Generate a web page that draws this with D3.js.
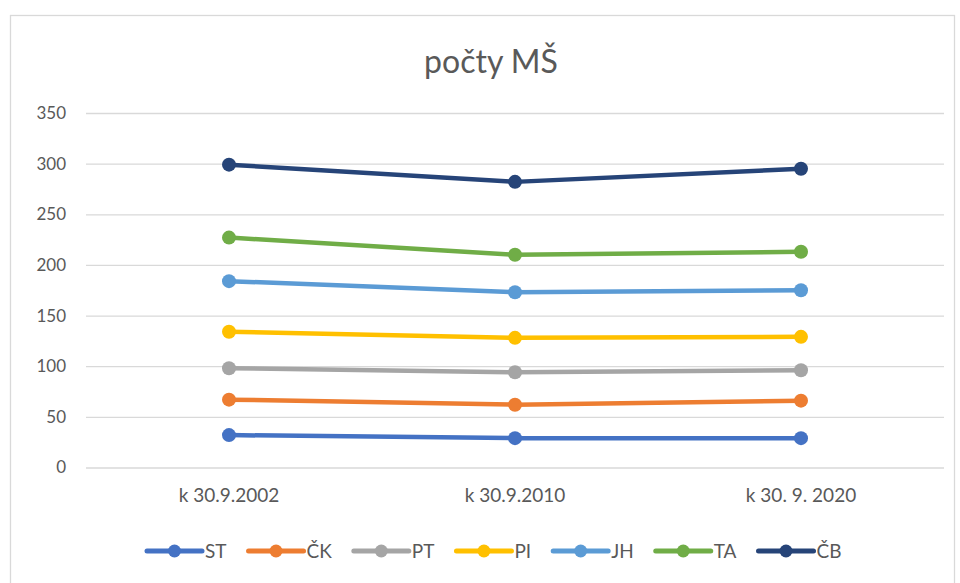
<!DOCTYPE html>
<html>
<head>
<meta charset="utf-8">
<script src="https://cdn.jsdelivr.net/npm/d3@7"></script>
<style>
  html, body { margin: 0; padding: 0; background: white; }
  text { font-family: Lato, "Open Sans", sans-serif; fill: #595959; }
</style>
</head>
<body>
<div id="d3-container"></div>
<script>
// categories and per-district values (stacked in the chart)
let categories = ['k 30.9.2002', 'k 30.9.2010', 'k 30. 9. 2020'];
let seriesNames = ['ST', 'ČK', 'PT', 'PI', 'JH', 'TA', 'ČB'];
let ST = [32, 29, 29];
let CK = [35, 33, 37];
let PT = [31, 32, 30];
let PI = [36, 34, 33];
let JH = [50, 45, 46];
let TA = [43, 37, 38];
let CB = [72, 72, 82];
let yTicks = [0, 50, 100, 150, 200, 250, 300, 350];
let colors = ['#4472C4', '#ED7D31', '#A5A5A5', '#FFC000', '#5B9BD5', '#70AD47', '#264478'];

let seriesValues = [ST, CK, PT, PI, JH, TA, CB];
let table = categories.map(function (c, i) {
  let row = { cat: c };
  seriesNames.forEach(function (s, j) { row[s] = seriesValues[j][i]; });
  return row;
});
let stacked = d3.stack().keys(seriesNames)(table);

let W = 960, H = 583;
let margin = { top: 113, left: 86, right: 16, bottom: 116 };

let svg = d3.select('#d3-container')
  .append('svg')
  .attr('width', W)
  .attr('height', H);

// chart frame
svg.append('rect')
  .attr('x', 10.5).attr('y', 15.5)
  .attr('width', 944).attr('height', 580)
  .attr('fill', 'white')
  .attr('stroke', '#d9d9d9')
  .attr('stroke-width', 1.3);

let xScale = d3.scaleBand().domain(categories).range([margin.left, W - margin.right]);
let yScale = d3.scaleLinear().domain([0, 350]).range([H - margin.bottom + 0.5, margin.top]);

// title
svg.append('text')
  .attr('x', 491).attr('y', 73)
  .attr('text-anchor', 'middle')
  .style('font-size', '32px')
  .text('počty MŠ');

// y axis with gridlines
let yAxis = svg.append('g')
  .attr('transform', 'translate(' + margin.left + ',0)')
  .call(d3.axisLeft(yScale).tickValues(yTicks).tickSize(-(W - margin.left - margin.right)).tickPadding(20));
yAxis.select('.domain').remove();
yAxis.selectAll('.tick line').attr('stroke', '#d9d9d9').attr('stroke-width', 1.3);
yAxis.selectAll('.tick text').style('font-size', '17px').attr('fill', '#595959');

// x axis labels
let xAxis = svg.append('g')
  .attr('transform', 'translate(0,' + yScale(0) + ')')
  .call(d3.axisBottom(xScale).tickSize(0).tickPadding(21));
xAxis.select('.domain').remove();
xAxis.selectAll('.tick text').style('font-size', '19px').attr('fill', '#595959');

let line = d3.line()
  .x(function (d) { return xScale(d.data.cat) + xScale.bandwidth() / 2; })
  .y(function (d) { return yScale(d[1]); });

stacked.forEach(function (layer, i) {
  svg.append('path')
    .datum(layer)
    .attr('d', line)
    .attr('fill', 'none')
    .attr('stroke', colors[i])
    .attr('stroke-width', 4.5)
    .attr('stroke-linejoin', 'round');
  svg.selectAll('.dot' + i)
    .data(layer)
    .enter()
    .append('circle')
    .attr('cx', function (d) { return xScale(d.data.cat) + xScale.bandwidth() / 2; })
    .attr('cy', function (d) { return yScale(d[1]); })
    .attr('r', 7)
    .attr('fill', colors[i]);
});

// legend
let legend = svg.append('g').attr('transform', 'translate(0,551)');
let lx = 147;
seriesNames.forEach(function (s, i) {
  let g = legend.append('g').attr('transform', 'translate(' + lx + ',0)');
  g.append('line')
    .attr('x1', 0).attr('x2', 55)
    .attr('stroke', colors[i]).attr('stroke-width', 5).attr('stroke-linecap', 'round');
  g.append('circle').attr('cx', 27.5).attr('r', 6.5).attr('fill', colors[i]);
  let t = g.append('text')
    .attr('x', 58).attr('y', 7)
    .style('font-size', '19px')
    .text(s);
  lx += 58 + t.node().getComputedTextLength() + 22;
});
</script>
</body>
</html>
